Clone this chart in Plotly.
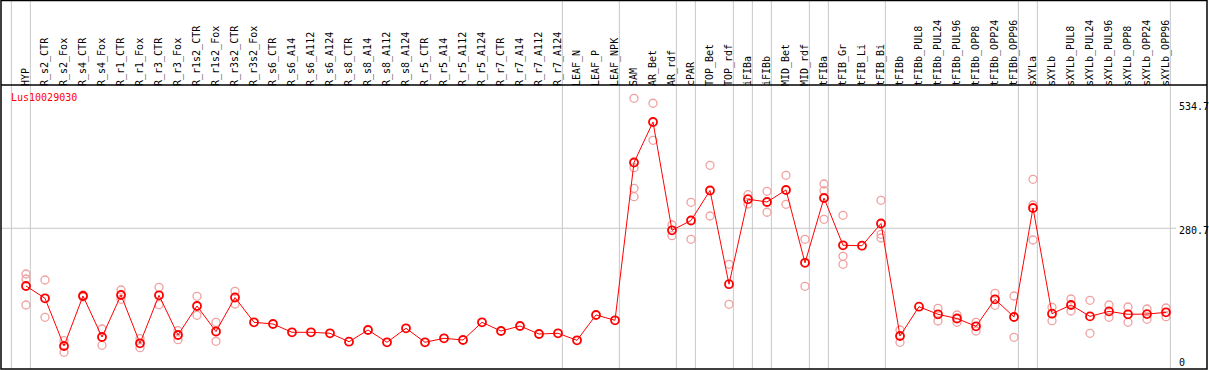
import plotly.graph_objects as go

categories = [
    "HYP", "R_s2_CTR", "R_s2_Fox", "R_s4_CTR", "R_s4_Fox", "R_r1_CTR", "R_r1_Fox",
    "R_r3_CTR", "R_r3_Fox", "R_r1s2_CTR", "R_r1s2_Fox", "R_r3s2_CTR", "R_r3s2_Fox",
    "R_s6_CTR", "R_s6_A14", "R_s6_A112", "R_s6_A124", "R_s8_CTR", "R_s8_A14",
    "R_s8_A112", "R_s8_A124", "R_r5_CTR", "R_r5_A14", "R_r5_A112", "R_r5_A124",
    "R_r7_CTR", "R_r7_A14", "R_r7_A112", "R_r7_A124", "LEAF_N", "LEAF_P", "LEAF_NPK",
    "SAM", "AR_Bet", "AR_rdf", "cPAR", "TOP_Bet", "TOP_rdf", "iFIBa", "iFIBb",
    "MID_Bet", "MID_rdf", "tFIBa", "tFIB_Gr", "tFIB_Li", "tFIB_Bi", "tFIBb",
    "tFIBb_PUL8", "tFIBb_PUL24", "tFIBb_PUL96", "tFIBb_OPP8", "tFIBb_OPP24",
    "tFIBb_OPP96", "sXYLa", "sXYLb", "sXYLb_PUL8", "sXYLb_PUL24", "sXYLb_PUL96",
    "sXYLb_OPP8", "sXYLb_OPP24", "sXYLb_OPP96",
]

mean_values = [
    163.4, 138.4, 41.5, 143.1, 59.7, 145.1, 46.9, 144.5, 63.8, 122.7, 70.9, 140.0,
    89.6, 86.2, 69.3, 69.3, 67.3, 50.2, 74.0, 49.0, 77.4, 49.0, 57.1, 53.6, 89.6,
    71.9, 82.1, 65.8, 67.3, 53.0, 104.5, 93.7,
    414.3, 496.6, 276.6, 296.5, 357.4, 167.0, 339.8, 334.1, 358.5, 210.5, 342.2,
    246.1, 245.3, 290.4, 61.8, 121.3, 105.9, 97.3, 81.5, 136.4, 100.4,
    321.9, 107.1, 124.8, 101.6, 111.8, 105.9, 106.3, 109.9,
]

replicate_values = [
    [187.8, 177.6, 124.8], [175.6, 99.8], [52.2, 28.7], [145.1, 141.0], [76.0, 42.9],
    [155.3, 136.4], [56.3, 38.0], [160.7, 125.4], [72.5, 54.3], [142.5, 103.8],
    [89.6, 51.0], [152.6, 126.8], [], [], [], [], [], [], [], [], [], [], [], [], [],
    [], [], [], [], [], [], [],
    [544.8, 403.8, 361.9, 344.8], [534.7, 459.5], [287.3, 265.6], [333.5, 258.3],
    [408.7, 305.6], [207.5, 126.2], [348.9, 330.0], [355.8, 313.2], [388.3, 329.4],
    [258.3, 162.8], [370.7, 357.0, 298.9], [307.1, 223.7, 207.5], [],
    [337.5, 268.4, 260.9], [74.0, 49.0], [], [118.1, 92.3], [104.5, 89.6],
    [89.6, 71.9], [148.5, 124.2], [143.1, 59.1],
    [380.2, 328.0, 256.9], [120.1, 92.9], [137.0, 112.6], [134.3, 67.3],
    [124.8, 99.8], [120.7, 89.6], [116.6, 95.7], [118.7, 101.0],
]

gene_name = "Lus10029030"
y_tick_values = [0, 280.7, 534.7]
y_tick_labels = ["0", "280.7", "534.7"]
grid_values = [280.7]
# group separators are drawn right after these category indices
separator_after = [-1, 0, 28, 31, 34, 35, 37, 38, 39, 41, 42, 45, 52, 53, 60]

W, H = 1209, 370
ML, MR, MT, MB = 1, 2, 85, 1
plot_w = W - ML - MR
plot_h = H - MT - MB
px_per_cat = 19.0
first_px = 26.0
x_min = -(first_px - ML) / px_per_cat
x_max = x_min + plot_w / px_per_cat
px_per_unit = 0.4921
zero_px = 366.4
y_min = (zero_px - (H - MB)) / px_per_unit
y_max = (zero_px - MT) / px_per_unit
header_top = 1 + MT / plot_h

rep_x, rep_y = [], []
for i, reps in enumerate(replicate_values):
    for v in reps:
        rep_x.append(i)
        rep_y.append(v)

idx = list(range(len(categories)))

fig = go.Figure()
fig.add_trace(go.Scatter(
    x=rep_x, y=rep_y, mode="markers",
    marker=dict(symbol="circle-open", size=8, color="#f0a0a0", line=dict(width=1.3, color="#f09898")),
    showlegend=False, hoverinfo="skip", cliponaxis=False,
))
fig.add_trace(go.Scatter(
    x=idx, y=mean_values, mode="lines+markers",
    line=dict(color="#ff0000", width=1),
    marker=dict(symbol="circle-open", size=8, color="#ff0000", line=dict(width=1.8, color="#ff0000")),
    showlegend=False, cliponaxis=False,
))

shapes = []
for s in separator_after:
    xs = s + 0.23
    shapes.append(dict(type="line", xref="x", yref="paper", x0=xs, x1=xs, y0=0, y1=header_top,
                       line=dict(color="#c8c8c8", width=1), layer="below"))
grid_end = (1176 - first_px) / px_per_cat
for g in grid_values:
    shapes.append(dict(type="line", xref="x", yref="y", x0=x_min, x1=grid_end, y0=g, y1=g,
                       line=dict(color="#c8c8c8", width=1), layer="below"))
# header separator and frame
shapes.append(dict(type="line", xref="paper", yref="paper", x0=0, x1=1, y0=1, y1=1,
                   line=dict(color="black", width=1.5)))
shapes.append(dict(type="rect", xref="paper", yref="paper", x0=0, x1=1, y0=0, y1=header_top - 0.002,
                   line=dict(color="black", width=1.5)))

annotations = [dict(
    text=gene_name, xref="paper", yref="paper", x=(9 - ML) / plot_w, y=(H - MB - 97) / plot_h,
    xanchor="left", yanchor="middle", showarrow=False,
    font=dict(family="DejaVu Sans Mono", size=10, color="#ff0000"),
)]
label_shift = {0: 4, 280.7: -2.5, 534.7: -3.5}
for v, t in zip(y_tick_values, y_tick_labels):
    annotations.append(dict(
        text=t, xref="paper", yref="y", x=(1177 - ML) / plot_w, y=v,
        xanchor="left", yanchor="middle", yshift=label_shift[v], showarrow=False,
        font=dict(family="DejaVu Sans Mono", size=10, color="black"),
    ))

fig.update_layout(
    width=W, height=H,
    margin=dict(l=ML, r=MR, t=MT, b=MB, pad=0),
    paper_bgcolor="white", plot_bgcolor="white",
    showlegend=False,
    xaxis=dict(
        range=[x_min, x_max], side="top", tickmode="array", tickvals=idx, ticktext=categories,
        tickangle=-90, ticks="", showgrid=False, zeroline=False, showline=False,
        tickfont=dict(family="DejaVu Sans Mono", size=10, color="black"),
        ticklabelshift=0, ticklabelstandoff=-2,
    ),
    yaxis=dict(
        range=[y_min, y_max], showticklabels=False, ticks="", showgrid=False,
        zeroline=False, showline=False,
    ),
    shapes=shapes,
    annotations=annotations,
)

fig.write_html(
    "out.html",
    config={"displayModeBar": False, "staticPlot": True},
    post_script="document.body.style.margin='0px';document.body.style.overflow='hidden';",
)
